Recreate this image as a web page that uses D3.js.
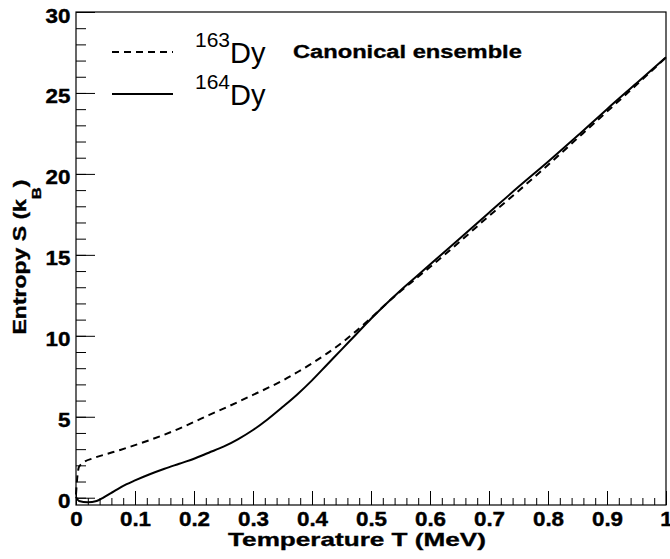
<!DOCTYPE html>
<meta charset="utf-8">
<style>
body { margin: 0; background: #fff; }
text { font-family: "Liberation Sans", Arial, Helvetica, sans-serif; fill: #000; }
.axis text { font-weight: bold; font-size: 20px; stroke: #000; stroke-width: 0.4; }
.bold { font-weight: bold; stroke: #000; stroke-width: 0.35; }
.axis line { stroke: #000; stroke-width: 1; }
.axis path { display: none; }
.curve { fill: none; stroke: #000; stroke-width: 2; }
.frame { fill: none; stroke: #000; stroke-width: 1.2; }
</style>
<svg width="670" height="559"></svg>
<script src="https://cdn.jsdelivr.net/npm/d3@7/dist/d3.min.js"></script>
<script>

// 163Dy (dashed), canonical entropy vs temperature
var t163 = [0, 0.002, 0.005, 0.01, 0.03, 0.05, 0.075, 0.1, 0.125, 0.15, 0.175, 0.2, 0.225, 0.25, 0.275, 0.3,
            0.325, 0.35, 0.375, 0.4, 0.425, 0.45, 0.475, 0.5, 0.525, 0.55, 0.575, 0.6, 0.65, 0.7, 0.75, 0.8,
            0.85, 0.9, 0.95, 1.0];
var s163 = [0.2, 1.2, 1.9, 2.1, 2.45, 2.68, 2.95, 3.25, 3.56, 3.9, 4.27, 4.68, 5.1, 5.5, 5.92, 6.35,
            6.78, 7.23, 7.75, 8.3, 8.9, 9.55, 10.3, 11.1, 11.95, 12.75, 13.5, 14.25, 15.8, 17.4, 18.95, 20.55,
            22.2, 23.85, 25.5, 27.2];

// 164Dy (solid)
var t164 = [0, 0.005, 0.02, 0.035, 0.045, 0.06, 0.07, 0.085, 0.1, 0.125, 0.15, 0.175, 0.2, 0.225, 0.25, 0.275,
            0.3, 0.325, 0.35, 0.375, 0.4, 0.425, 0.45, 0.475, 0.5, 0.525, 0.55, 0.575, 0.6, 0.65, 0.7, 0.75,
            0.8, 0.85, 0.9, 0.95, 1.0];
var s164 = [0.05, -0.2, -0.28, -0.2, -0.02, 0.3, 0.52, 0.82, 1.07, 1.45, 1.79, 2.1, 2.41, 2.78, 3.15, 3.62,
            4.18, 4.85, 5.6, 6.38, 7.25, 8.2, 9.15, 10.1, 11.05, 11.95, 12.8, 13.6, 14.4, 16.0, 17.6, 19.2,
            20.75, 22.35, 24.0, 25.6, 27.2];

var xMajor = [0, 0.1, 0.2, 0.3, 0.4, 0.5, 0.6, 0.7, 0.8, 0.9, 1];
var xLabels = ["0", "0.1", "0.2", "0.3", "0.4", "0.5", "0.6", "0.7", "0.8", "0.9", "1"];
var xMinor = d3.range(51).map(function(i) { return i / 50; });
var yMajor = [0, 5, 10, 15, 20, 25, 30];
var yMinor = d3.range(31);

var svg = d3.select("svg");
var pLeft = 76, pRight = 666, pTop = 12, pBottom = 505;

var x = d3.scaleLinear().domain([0, 1]).range([pLeft, pRight]);
var y = d3.scaleLinear().domain([-0.45, 30]).range([pBottom, pTop]);

// stretch a text so it covers a given width
function fit(sel, w) {
  var n = sel.node(), len = n.getComputedTextLength();
  var tr = sel.attr("transform") || "";
  sel.attr("transform", tr + " scale(" + (w / len) + ",1)");
}

// x axis
svg.append("g").attr("class", "axis")
    .attr("transform", "translate(0," + pBottom + ")")
    .call(d3.axisBottom(x).tickValues(xMinor).tickSizeInner(-7).tickSizeOuter(0).tickFormat(""));
var gx = svg.append("g").attr("class", "axis")
    .attr("transform", "translate(0," + pBottom + ")")
    .call(d3.axisBottom(x).tickValues(xMajor).tickSizeInner(-14).tickSizeOuter(0).tickPadding(7)
      .tickFormat(function(d, i) { return xLabels[i]; }));
gx.selectAll("text").attr("transform", "scale(1.12,1)");

// y axis
svg.append("g").attr("class", "axis")
    .attr("transform", "translate(" + pLeft + ",0)")
    .call(d3.axisLeft(y).tickValues(yMinor).tickSizeInner(-10).tickSizeOuter(0).tickFormat(""));
var gy = svg.append("g").attr("class", "axis")
    .attr("transform", "translate(" + pLeft + ",0)")
    .call(d3.axisLeft(y).tickValues(yMajor).tickSizeInner(-19).tickSizeOuter(0).tickPadding(5));
gy.selectAll("text").attr("dy", "0.5em").attr("transform", "scale(1.12,1)");

svg.append("rect").attr("class", "frame")
    .attr("x", pLeft).attr("y", pTop).attr("width", pRight - pLeft).attr("height", pBottom - pTop);

// curves
var line = d3.line()
    .x(function(d) { return x(d[0]); })
    .y(function(d) { return y(d[1]); })
    .curve(d3.curveMonotoneX);

svg.append("path").attr("class", "curve")
    .attr("stroke-dasharray", "7,5")
    .attr("d", line(d3.zip(t163, s163)));
svg.append("path").attr("class", "curve")
    .attr("d", line(d3.zip(t164, s164)));

// axis titles
var xt = svg.append("text").attr("class", "bold")
    .attr("transform", "translate(357,546)")
    .attr("text-anchor", "middle")
    .style("font-size", "19px")
    .text("Temperature T (MeV)");
fit(xt, 258);

var yt = svg.append("text").attr("class", "bold")
    .attr("transform", "translate(26,257) rotate(-90)")
    .attr("text-anchor", "middle")
    .style("font-size", "18px");
yt.append("tspan").text("Entropy S (k");
yt.append("tspan").attr("dy", 15).style("font-size", "13px").text("B");
yt.append("tspan").attr("dy", -15).text(")");
fit(yt, 155);

// legend
var legend = [
  {iso: "163", dash: "7,5", y: 52},
  {iso: "164", dash: null, y: 94}
];
legend.forEach(function(l) {
  svg.append("line").attr("class", "curve")
      .attr("x1", 112).attr("x2", 173).attr("y1", l.y).attr("y2", l.y)
      .attr("stroke-dasharray", l.dash);
  var t = svg.append("text").attr("x", 195).attr("y", l.y + 10.7);
  t.append("tspan").attr("dy", -15.7).style("font-size", "21px").text(l.iso);
  t.append("tspan").attr("dy", 15.7).style("font-size", "29px").text("Dy");
});

var ct = svg.append("text").attr("class", "bold")
    .attr("transform", "translate(293,58)")
    .style("font-size", "19px")
    .text("Canonical ensemble");
fit(ct, 229);

</script>
